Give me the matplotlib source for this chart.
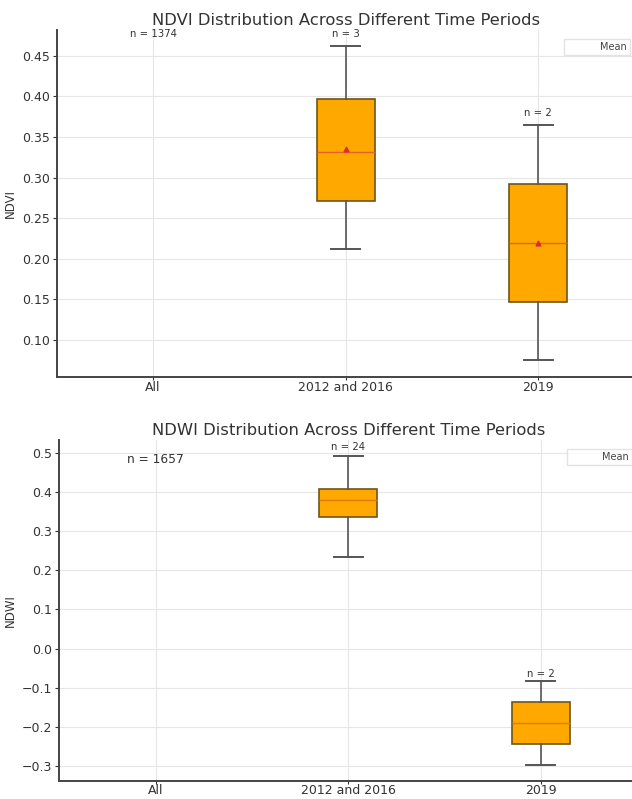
import matplotlib
matplotlib.use('Agg')
import matplotlib.pyplot as plt
from matplotlib.lines import Line2D

periods = ['All', '2012 and 2016', '2019']

# NDVI box statistics (All has no box drawn)
ndvi_n = [1374, 3, 2]
ndvi_whislo = [0.212, 0.075]
ndvi_q1 = [0.2715, 0.1475]
ndvi_med = [0.331, 0.220]
ndvi_q3 = [0.3965, 0.2925]
ndvi_whishi = [0.462, 0.365]
ndvi_mean = [0.335, 0.220]
ndvi_label_y = [0.476, 0.476, 0.379]

# NDWI box statistics
ndwi_n = [1657, 24, 2]
ndwi_whislo = [0.233, -0.297]
ndwi_q1 = [0.336, -0.2455]
ndwi_med = [0.380, -0.1905]
ndwi_q3 = [0.409, -0.138]
ndwi_whishi = [0.493, -0.084]
ndwi_label_y = [0.485, 0.515, -0.066]

ndvi_ticks = [0.10, 0.15, 0.20, 0.25, 0.30, 0.35, 0.40, 0.45]
ndwi_ticks = [-0.3, -0.2, -0.1, 0.0, 0.1, 0.2, 0.3, 0.4, 0.5]

BOX_FILL = '#ffa800'
BOX_EDGE = '#6e5518'
WHISK = '#555555'
SPINE = '#444444'

fig = plt.figure(figsize=(6.32, 7.99), dpi=100)
ax1 = fig.add_axes([0.090, 0.528, 0.914, 0.434])
ax2 = fig.add_axes([0.094, 0.023, 0.914, 0.426])


def style_axes(ax):
    for s in ['top', 'right']:
        ax.spines[s].set_visible(False)
    for s in ['left', 'bottom']:
        ax.spines[s].set_color(SPINE)
        ax.spines[s].set_linewidth(1.4)
    ax.grid(True, color='#e6e6e6', linewidth=0.8)
    ax.set_axisbelow(True)
    ax.tick_params(axis='y', labelsize=9, colors='#333333', length=3,
                   width=0.8, pad=2)
    ax.tick_params(axis='x', labelsize=9, colors='#333333', length=2,
                   width=0.8, pad=0.5)
    ax.set_xlim(0.5, 3.5)
    ax.set_xticks([1, 2, 3])
    ax.set_xticklabels(periods)


def draw_boxes(ax, whislo, q1, med, q3, whishi, mean, med_color):
    stats = []
    for i in range(len(med)):
        d = dict(whislo=whislo[i], q1=q1[i], med=med[i], q3=q3[i],
                 whishi=whishi[i], fliers=[])
        if mean is not None:
            d['mean'] = mean[i]
        stats.append(d)
    ax.bxp(stats, positions=[2, 3], widths=0.3, patch_artist=True,
           showmeans=mean is not None, manage_ticks=False,
           boxprops=dict(facecolor=BOX_FILL, edgecolor=BOX_EDGE, linewidth=1.2),
           whiskerprops=dict(color=WHISK, linewidth=1.2),
           capprops=dict(color=WHISK, linewidth=1.4),
           medianprops=dict(color=med_color, linewidth=1.0),
           meanprops=dict(marker='^', markerfacecolor='#d9302a',
                          markeredgecolor='#d9302a', markersize=3.5))


def mean_legend(ax):
    ax.legend([Line2D([], [], linestyle='none')], ['Mean'], loc='upper right',
              fontsize=7, frameon=True, edgecolor='#dddddd', fancybox=False,
              borderpad=0.35, handlelength=2.5, labelcolor='#444444',
              bbox_to_anchor=(1.0, 0.99))


# NDVI panel
style_axes(ax1)
draw_boxes(ax1, ndvi_whislo, ndvi_q1, ndvi_med, ndvi_q3, ndvi_whishi,
           ndvi_mean, '#e8602a')
ax1.set_ylim(0.0545, 0.481)
ax1.set_yticks(ndvi_ticks)
ax1.set_yticklabels([f'{t:.2f}' for t in ndvi_ticks])
for x, (n, y) in enumerate(zip(ndvi_n, ndvi_label_y), start=1):
    ax1.text(x, y, f'n = {n}', ha='center', va='center', fontsize=7.3,
             color='#333333')
ax1.set_ylabel('NDVI', fontsize=8.5, color='#333333', labelpad=4)
ax1.set_title('NDVI Distribution Across Different Time Periods',
              fontsize=11.8, color='#333333', pad=4)
mean_legend(ax1)

# NDWI panel
style_axes(ax2)
draw_boxes(ax2, ndwi_whislo, ndwi_q1, ndwi_med, ndwi_q3, ndwi_whishi,
           None, '#dd7a10')
ax2.set_ylim(-0.338, 0.533)
ax2.set_yticks(ndwi_ticks)
ax2.set_yticklabels([f'{t:.1f}'.replace('-', '\u2212') for t in ndwi_ticks])
for x, (n, y) in enumerate(zip(ndwi_n, ndwi_label_y), start=1):
    ax2.text(x, y, f'n = {n}', ha='center', va='center',
             fontsize=8.8 if x == 1 else 7.3, color='#333333')
ax2.set_ylabel('NDWI', fontsize=8.5, color='#333333', labelpad=4)
ax2.set_title('NDWI Distribution Across Different Time Periods',
              fontsize=11.8, color='#333333', pad=4)
mean_legend(ax2)

fig.savefig('out.png', dpi=100)
